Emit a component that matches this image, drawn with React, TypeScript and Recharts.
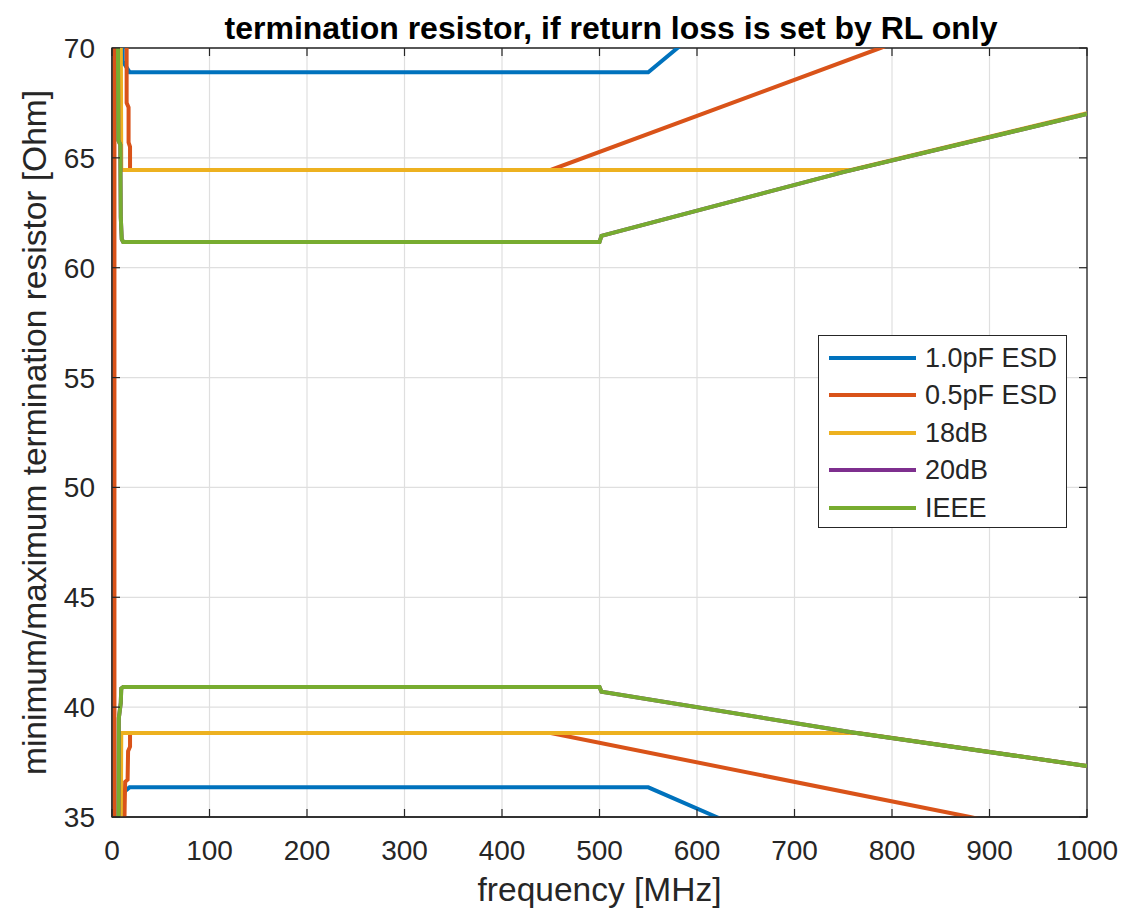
import React from 'react';
import { LineChart, Line, XAxis, YAxis, CartesianGrid, Legend, ReferenceArea, Label } from 'recharts';

// ---- data (frequency MHz, resistance Ohm) ----
const esd10Upper: [number, number][] = [[11, 71], [11, 69.4], [18, 68.9], [550, 68.9], [580, 70], [590, 70.35]];
const esd10Lower: [number, number][] = [[11, 34], [11, 36.1], [18, 36.35], [550, 36.35], [620, 35], [630, 34.8]];

const esd05Upper: [number, number][] = [[2.5, 34], [2.5, 71], [15, 71], [15, 67.5], [17, 67.3], [17, 65.7], [18.5, 65.5], [18.5, 64.45], [450, 64.45], [788, 70], [800, 70.2]];
const esd05Lower: [number, number][] = [[12.5, 34], [13, 35.5], [13.5, 36.6], [16, 36.7], [16.5, 38.0], [18.5, 38.2], [18.5, 38.82], [450, 38.82], [880, 35], [890, 34.9]];

const rl18Upper: [number, number][] = [[9, 71], [9.5, 64.45], [758, 64.45], [1000, 67.03]];
const rl18Lower: [number, number][] = [[9, 34], [9.5, 38.82], [765, 38.82], [1000, 37.32]];

const rl20Upper: [number, number][] = [[6, 71], [6.5, 65.8], [8.5, 65.6], [9, 62.3], [10, 61.3], [11.5, 61.17], [500, 61.17], [502, 61.45], [750, 64.35], [1000, 67.0]];
const rl20Lower: [number, number][] = [[6.5, 34], [7, 39.5], [9, 40.2], [9.5, 40.85], [11.5, 40.92], [500, 40.92], [502, 40.7], [760, 38.85], [1000, 37.32]];

const ieeeUpper: [number, number][] = [[6, 71], [6.5, 65.8], [8.5, 65.6], [9, 62.3], [10, 61.3], [11.5, 61.17], [500, 61.17], [502, 61.45], [750, 64.35], [1000, 67.0]];
const ieeeLower: [number, number][] = [[6.5, 34], [7, 39.5], [9, 40.2], [9.5, 40.85], [11.5, 40.92], [500, 40.92], [502, 40.7], [760, 38.85], [1000, 37.32]];

const seriesNames = ['1.0pF ESD', '0.5pF ESD', '18dB', '20dB', 'IEEE'];
const seriesColors = ['#0072BD', '#D95319', '#EDB120', '#7E2F8E', '#77AC30'];
const seriesUpper = [esd10Upper, esd05Upper, rl18Upper, rl20Upper, ieeeUpper];
const seriesLower = [esd10Lower, esd05Lower, rl18Lower, rl20Lower, ieeeLower];

const xTicks = [0, 100, 200, 300, 400, 500, 600, 700, 800, 900, 1000];
const yTicks = [35, 40, 45, 50, 55, 60, 65, 70];

const TITLE = 'termination resistor, if return loss is set by RL only';
const XLABEL = 'frequency [MHz]';
const YLABEL = 'minimum/maximum termination resistor [Ohm]';

// ---- layout ----
const W = 1140;
const H = 902;
const P_LEFT = 104;
const P_TOP = 40;
const P_RIGHT = 1079;
const P_BOTTOM = 809;
const AX = '#262626';
const FONT = '"Liberation Sans", Arial, Helvetica, sans-serif';
const TICK_LEN = 8;

const toPts = (arr: [number, number][]) => arr.map(([f, r]) => ({ f, r }));

const XTick = (props: any) => {
  const { x, payload } = props;
  return (
    <g>
      <line x1={x} x2={x} y1={P_BOTTOM} y2={P_BOTTOM - TICK_LEN} stroke={AX} strokeWidth={1.2} />
      <line x1={x} x2={x} y1={P_TOP} y2={P_TOP + TICK_LEN} stroke={AX} strokeWidth={1.2} />
      <text x={x} y={P_BOTTOM + 43} textAnchor="middle" fill={AX} fontSize={28} fontFamily={FONT}>
        {payload.value}
      </text>
    </g>
  );
};

const YTick = (props: any) => {
  const { y, payload } = props;
  return (
    <g>
      <line x1={P_LEFT} x2={P_LEFT + TICK_LEN} y1={y} y2={y} stroke={AX} strokeWidth={1.2} />
      <line x1={P_RIGHT} x2={P_RIGHT - TICK_LEN} y1={y} y2={y} stroke={AX} strokeWidth={1.2} />
      <text x={P_LEFT - 17} y={y + 10} textAnchor="end" fill={AX} fontSize={28} fontFamily={FONT}>
        {payload.value}
      </text>
    </g>
  );
};

const LegendBox = () => (
  <div
    style={{
      width: 249,
      height: 193,
      border: `1.3px solid ${AX}`,
      background: '#fff',
      boxSizing: 'border-box',
      paddingTop: 3,
      fontFamily: FONT,
    }}
  >
    {seriesNames.map((n, i) => (
      <div key={n} style={{ display: 'flex', alignItems: 'center', height: 37.5 }}>
        <div style={{ marginLeft: 10, width: 87, height: 4, background: seriesColors[i] }} />
        <div style={{ marginLeft: 9, fontSize: 27, color: AX, lineHeight: '30px', whiteSpace: 'nowrap' }}>{n}</div>
      </div>
    ))}
  </div>
);

export default function App() {
  return (
    <div style={{ position: 'relative', width: W, height: H, background: '#fff' }}>
      <LineChart width={W} height={H} margin={{ top: P_TOP, right: W - P_RIGHT, left: 0, bottom: 0 }}>
        <CartesianGrid stroke="#dfdfdf" strokeWidth={1.2} horizontal vertical />
        <XAxis
          dataKey="f"
          type="number"
          domain={[0, 1000]}
          ticks={xTicks}
          interval={0}
          allowDataOverflow
          height={H - P_BOTTOM}
          tickSize={0}
          tickMargin={0}
          tick={<XTick />}
          axisLine={{ stroke: AX, strokeWidth: 1.3 }}
          tickLine={false}
        >
          <Label
            content={() => (
              <text x={(P_LEFT + P_RIGHT) / 2} y={P_BOTTOM + 84} textAnchor="middle" fill={AX} fontSize={33.5} fontFamily={FONT}>
                {XLABEL}
              </text>
            )}
          />
        </XAxis>
        <YAxis
          dataKey="r"
          type="number"
          domain={[35, 70]}
          ticks={yTicks}
          interval={0}
          allowDataOverflow
          width={P_LEFT}
          tickSize={0}
          tickMargin={0}
          tick={<YTick />}
          axisLine={{ stroke: AX, strokeWidth: 1.3 }}
          tickLine={false}
        >
          <Label
            content={() => (
              <text
                x={38}
                y={(P_TOP + P_BOTTOM) / 2}
                transform={`rotate(-90, 38, ${(P_TOP + P_BOTTOM) / 2})`}
                textAnchor="middle"
                fill={AX}
                fontSize={33.5}
                fontFamily={FONT}
              >
                {YLABEL}
              </text>
            )}
          />
        </YAxis>
        {seriesNames.map((n, i) => (
          <Line
            key={n + '-u'}
            data={toPts(seriesUpper[i])}
            dataKey="r"
            name={n}
            type="linear"
            stroke={seriesColors[i]}
            strokeWidth={4}
            dot={false}
            activeDot={false}
            isAnimationActive={false}
          />
        ))}
        {seriesNames.map((n, i) => (
          <Line
            key={n + '-l'}
            data={toPts(seriesLower[i])}
            dataKey="r"
            name={n + ' '}
            type="linear"
            stroke={seriesColors[i]}
            strokeWidth={4}
            dot={false}
            activeDot={false}
            isAnimationActive={false}
            legendType="none"
          />
        ))}
        <ReferenceArea x1={0} x2={1000} y1={35} y2={70} fill="none" stroke={AX} strokeWidth={1.3} ifOverflow="visible" />
        <Legend
          layout="horizontal"
          verticalAlign="middle"
          align="center"
          content={() => <LegendBox />}
          wrapperStyle={{ position: 'absolute', left: 810, top: 327, width: 249, height: 193 }}
        />
      </LineChart>
      <div
        style={{
          position: 'absolute',
          left: 0,
          top: 1,
          width: W,
          textAlign: 'center',
          paddingLeft: 66,
          boxSizing: 'border-box',
          fontFamily: FONT,
          fontWeight: 'bold',
          fontSize: 32,
          lineHeight: '38px',
          color: '#000',
          whiteSpace: 'nowrap',
        }}
      >
        {TITLE}
      </div>
    </div>
  );
}
